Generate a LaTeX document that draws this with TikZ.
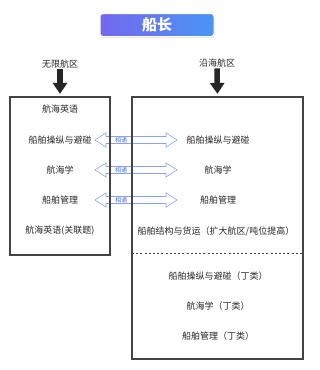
\documentclass[tikz,border=0pt]{standalone}
\usepackage{fontspec}
\newfontfamily\cjk{Noto Sans CJK SC}
\usetikzlibrary{arrows.meta,shadows}
\definecolor{xiangray}{HTML}{444444}
\definecolor{zigray}{HTML}{262626}
\definecolor{jiantoulan}{HTML}{8AA3EA}
\definecolor{zilan}{HTML}{4F72D6}
\definecolor{biaotizuo}{HTML}{7368EE}
\definecolor{biaotiyou}{HTML}{4A95F3}
\tikzset{
  kemu/.style={font=\cjk\fontsize{9}{10}\selectfont, text=zigray, inner sep=1pt},
  kuang/.style={draw=xiangray, line width=1.2pt, inner sep=0pt},
  xiajiantou/.style={draw=zigray, line width=5.5pt, -{Triangle[width=14pt,length=11pt]}},
  xiangtong/.style={draw=jiantoulan, fill=white, line width=0.6pt, line join=miter},
  tongzi/.style={font=\cjk\fontsize{6}{6}\selectfont, text=zilan, inner sep=0pt}
}
\begin{document}
\begin{tikzpicture}[x=1pt, y=-1pt]
  \useasboundingbox (0,0) rectangle (320,370);
  % biaoti
  \node[rounded corners=3pt, left color=biaotizuo, right color=biaotiyou,
    draw=white, line width=1pt, drop shadow={opacity=0.2, shadow xshift=0.8pt, shadow yshift=-1.5pt},
    minimum width=114pt, minimum height=23pt, text=white,
    font=\cjk\bfseries\fontsize{15}{16}\selectfont] (chuanzhang) at (157,25) {船长};
  % xiangtong jiantou
  \foreach \y [count=\i] in {140,170,200} {
    \draw[xiangtong, shift={(136,\y)}] (-41,0) -- (-30,-7) -- (-30,-3.5) -- (30,-3.5)
      -- (30,-7) -- (41,0) -- (30,7) -- (30,3.5) -- (-30,3.5) -- (-30,7) -- cycle;
    \node[tongzi] (tongzi\i) at (121,\y) {相通};
  }
  % wuxian hangqu
  \node[kemu] (wuxian) at (60,64) {无限航区};
  \node[kuang, minimum width=100pt, minimum height=158pt] (zuokuang) at (60,176) {};
  \draw[xiajiantou, shorten >=2.5pt] (wuxian.south) -- (zuokuang.north);
  \node[kemu] (z1) at (60,109) {航海英语};
  \node[kemu] (z2) at (60,140) {船舶操纵与避碰};
  \node[kemu] (z3) at (60,170) {航海学};
  \node[kemu] (z4) at (60,200) {船舶管理};
  \node[kemu] (z5) at (60,231) {航海英语(关联题)};
  % yanhai hangqu
  \node[kemu] (yanhai) at (217,63) {沿海航区};
  \node[kuang, minimum width=171pt, minimum height=262pt] (youkuang) at (217.5,228) {};
  \draw[xiajiantou, shorten >=2.5pt] (yanhai.south) -- (youkuang.north);
  \node[kemu] (y1) at (218,140) {船舶操纵与避碰};
  \node[kemu] (y2) at (218,170) {航海学};
  \node[kemu] (y3) at (218,200) {船舶管理};
  \node[kemu] (y4) at (216,231) {船舶结构与货运（扩大航区/吨位提高）};
  \coordinate (xuzuo) at (132,253);
  \coordinate (xuyou) at (303,253);
  \draw[xiangray, line width=1pt, dash pattern=on 2pt off 2.2pt] (xuzuo) -- (xuyou);
  \node[kemu] (y5) at (218,276) {船舶操纵与避碰（丁类）};
  \node[kemu] (y6) at (218,306) {航海学（丁类）};
  \node[kemu] (y7) at (218,336) {船舶管理（丁类）};
\end{tikzpicture}
\end{document}
